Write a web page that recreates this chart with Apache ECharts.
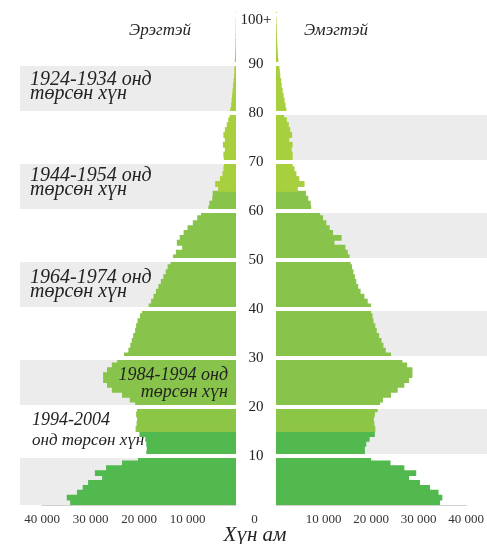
<!DOCTYPE html>
<html>
<head>
<meta charset="UTF-8">
<title>Хүн амын пирамид</title>
<script src="https://cdn.jsdelivr.net/npm/echarts@6/dist/echarts.min.js"></script>
<style>
  html, body { margin: 0; background: #fff; }
  #main { width: 487px; height: 544px; }
</style>
</head>
<body>
<div id="main"></div>
<script>
  // age groups 0 .. 100 (100 = 100+)
  var ages = ['0','1','2','3','4','5','6','7','8','9','10','11','12','13','14','15','16','17','18','19',
    '20','21','22','23','24','25','26','27','28','29','30','31','32','33','34','35','36','37','38','39',
    '40','41','42','43','44','45','46','47','48','49','50','51','52','53','54','55','56','57','58','59',
    '60','61','62','63','64','65','66','67','68','69','70','71','72','73','74','75','76','77','78','79',
    '80','81','82','83','84','85','86','87','88','89','90','91','92','93','94','95','96','97','98','99','100'];

  // Эрэгтэй, хүн
  var male = [34200, 34900, 32800, 31600, 30500, 27600, 29100, 26800, 23500, 20200,
    18500, 18400, 18500, 18700, 19900, 20700, 20500, 20400, 20600, 20400,
    20800, 21900, 23500, 25600, 26600, 27400, 27400, 26600, 25600, 24500,
    23100, 22200, 21800, 21500, 21200, 20800, 20600, 20300, 19800, 19400,
    18000, 17500, 17000, 16500, 16000, 15500, 15000, 14500, 14100, 13500,
    13000, 12400, 11100, 12200, 11600, 10800, 10000, 8900, 8000, 7200,
    5700, 5500, 4900, 4800, 3700, 4300, 3300, 2800, 2600, 2500,
    2500, 2600, 2300, 2700, 2300, 2600, 2300, 1900, 1600, 1300,
    1200, 1000, 900, 800, 700, 600, 500, 400, 350, 300,
    250, 200, 160, 120, 100, 80, 60, 50, 40, 30, 100];

  // Эмэгтэй, хүн
  var female = [34500, 35000, 34200, 32400, 30300, 28000, 29500, 27000, 24100, 20000,
    18700, 18700, 19000, 19700, 20800, 20900, 20700, 20600, 20800, 21400,
    21900, 22500, 24200, 25600, 27000, 28000, 28700, 28700, 27600, 26600,
    24200, 23100, 22600, 22200, 21700, 21200, 20900, 20500, 20300, 20000,
    20000, 19300, 18600, 17800, 17300, 16900, 16600, 16300, 16000, 15700,
    15500, 15100, 14600, 12300, 13800, 12000, 11300, 10600, 9900, 9300,
    7400, 7300, 6800, 6300, 4600, 6000, 4900, 4300, 3900, 3500,
    3500, 3500, 3300, 3500, 2800, 3400, 3000, 2700, 2300, 1700,
    2200, 2000, 1800, 1600, 1400, 1200, 1100, 900, 800, 700,
    500, 420, 350, 300, 250, 200, 160, 130, 100, 80, 200];

  var xTicks = [0, 10000, 20000, 30000, 40000];

  // өнгө: насны бүлгээр
  var ageBands = [
    { to: 14, color: '#52b94f' },
    { to: 19, color: '#8dc646' },
    { to: 63, color: '#88c44b' },
    { to: 100, color: '#a8cf3d' }
  ];
  function ageColor(i) {
    for (var k = 0; k < ageBands.length; k++) {
      if (i <= ageBands[k].to) return ageBands[k].color;
    }
    return ageBands[ageBands.length - 1].color;
  }

  function toItems(values) {
    return values.map(function (v, i) {
      return { value: v, itemStyle: { color: ageColor(i) } };
    });
  }

  var serif = '"Liberation Serif", "DejaVu Serif", serif';
  var gray = '#ececec';

  function fmtNum(v) {
    return v === 0 ? '' : (v / 1000) + ' 000';
  }

  function bandAxis(grid, areaColors, lastArea) {
    return {
      gridIndex: grid, type: 'category', data: ages,
      axisLine: { show: false }, axisTick: { show: false }, axisLabel: { show: false },
      splitLine: { show: false },
      splitArea: {
        show: true,
        interval: function (i) { return i % 10 === 0 && i <= lastArea; },
        areaStyle: { color: areaColors }
      }
    };
  }
  function gapAxis(grid) {
    return {
      gridIndex: grid, type: 'category', data: ages, z: 5,
      axisLine: { show: false }, axisTick: { show: false }, axisLabel: { show: false },
      splitLine: {
        show: true,
        interval: function (i) { return i % 10 === 0 && i > 0; },
        lineStyle: { color: '#fff', width: 4 }
      }
    };
  }
  function valueAxis(grid, inverse) {
    return {
      gridIndex: grid, type: 'value', inverse: inverse,
      min: 0, max: 40000, interval: 10000,
      axisLine: { show: true, lineStyle: { color: '#cfcfcf', width: 1 } },
      axisTick: { show: false },
      splitLine: { show: false },
      axisLabel: {
        margin: 8, fontFamily: serif, fontSize: 13, color: '#333',
        formatter: function (v) {
          if (v === 0) return inverse ? '{z|0}' : '';
          return xTicks.indexOf(v) >= 0 ? fmtNum(v) : '';
        },
        rich: { z: { padding: [0, 0, 0, 37], fontFamily: serif, fontSize: 13, color: '#333' } }
      }
    };
  }

  var myChart = echarts.init(document.getElementById('main'));

  var option = {
    animation: false,
    backgroundColor: '#fff',
    grid: [
      { left: 20, width: 216, top: 10, bottom: 39 },
      { left: 276, right: 0, top: 10, bottom: 39 },
      { left: 42, width: 194, top: 10, bottom: 39 },
      { left: 276, width: 194, top: 10, bottom: 39 }
    ],
    xAxis: [
      { gridIndex: 0, type: 'value', show: false, min: 0, max: 1 },
      { gridIndex: 1, type: 'value', show: false, min: 0, max: 1 },
      valueAxis(2, true),
      valueAxis(3, false)
    ],
    yAxis: [
      bandAxis(0, [gray, 'rgba(0,0,0,0)'], 90),
      gapAxis(0),
      bandAxis(1, ['rgba(0,0,0,0)', gray], 80),
      gapAxis(1),
      {
        gridIndex: 2, type: 'category', data: ages, position: 'right',
        axisLine: { show: false }, axisTick: { show: false }, splitLine: { show: false },
        axisLabel: {
          show: true, margin: 20, align: 'center',
          interval: function (i) { return i % 10 === 0 && i > 0; },
          formatter: function (v) { return v === '100' ? '{t|100+}' : '{n|' + v + '}'; },
          rich: {
            n: { padding: [5, 0, 0, 0], fontFamily: serif, fontSize: 15, color: '#222' },
            t: { padding: [15, 0, 0, 0], fontFamily: serif, fontSize: 15, color: '#222' }
          }
        }
      },
      { gridIndex: 3, type: 'category', data: ages, show: false }
    ],
    series: [
      {
        // slight overlap (negative gap) so touching bars show no seams
        name: 'Эрэгтэй', type: 'bar', xAxisIndex: 2, yAxisIndex: 4,
        data: toItems(male), barCategoryGap: '-20%', silent: true
      },
      {
        name: 'Эмэгтэй', type: 'bar', xAxisIndex: 3, yAxisIndex: 5,
        data: toItems(female), barCategoryGap: '-20%', silent: true
      }
    ],
    graphic: [
      { type: 'text', x: 160, y: 31, z: 10, style: { text: 'Эрэгтэй', font: 'italic 17px ' + serif, fill: '#222', align: 'center', textAlign: 'center', verticalAlign: 'middle', textVerticalAlign: 'middle' } },
      { type: 'text', x: 336, y: 31, z: 10, style: { text: 'Эмэгтэй', font: 'italic 17px ' + serif, fill: '#222', align: 'center', textAlign: 'center', verticalAlign: 'middle', textVerticalAlign: 'middle' } },

      { type: 'text', x: 30, y: 79.5, z: 10, style: { text: '1924-1934 онд', font: 'italic 20px ' + serif, fill: '#222', verticalAlign: 'middle', textVerticalAlign: 'middle' } },
      { type: 'text', x: 30, y: 93.5, z: 10, style: { text: 'төрсөн хүн', font: 'italic 20px ' + serif, fill: '#222', verticalAlign: 'middle', textVerticalAlign: 'middle' } },

      { type: 'text', x: 30, y: 176, z: 10, style: { text: '1944-1954 онд', font: 'italic 20px ' + serif, fill: '#222', verticalAlign: 'middle', textVerticalAlign: 'middle' } },
      { type: 'text', x: 30, y: 190, z: 10, style: { text: 'төрсөн хүн', font: 'italic 20px ' + serif, fill: '#222', verticalAlign: 'middle', textVerticalAlign: 'middle' } },

      { type: 'text', x: 30, y: 277.5, z: 10, style: { text: '1964-1974 онд', font: 'italic 20px ' + serif, fill: '#222', verticalAlign: 'middle', textVerticalAlign: 'middle' } },
      { type: 'text', x: 30, y: 291.5, z: 10, style: { text: 'төрсөн хүн', font: 'italic 20px ' + serif, fill: '#222', verticalAlign: 'middle', textVerticalAlign: 'middle' } },

      { type: 'text', x: 228, y: 375.5, z: 10, style: { text: '1984-1994 онд', font: 'italic 18px ' + serif, fill: '#222', align: 'right', textAlign: 'right', verticalAlign: 'middle', textVerticalAlign: 'middle' } },
      { type: 'text', x: 228, y: 392, z: 10, style: { text: 'төрсөн хүн', font: 'italic 18px ' + serif, fill: '#222', align: 'right', textAlign: 'right', verticalAlign: 'middle', textVerticalAlign: 'middle' } },

      { type: 'text', x: 32, y: 420.5, z: 10, style: { text: '1994-2004', font: 'italic 18px ' + serif, fill: '#222', verticalAlign: 'middle', textVerticalAlign: 'middle' } },
      { type: 'text', x: 32, y: 441, z: 10, style: { text: 'онд төрсөн хүн', font: 'italic 17px ' + serif, fill: '#222', verticalAlign: 'middle', textVerticalAlign: 'middle' } },

      { type: 'text', x: 255, y: 535, z: 10, style: { text: 'Хүн ам', font: 'italic 21px ' + serif, fill: '#222', align: 'center', textAlign: 'center', verticalAlign: 'middle', textVerticalAlign: 'middle' } }
    ]
  };

  myChart.setOption(option);
</script>
</body>
</html>
